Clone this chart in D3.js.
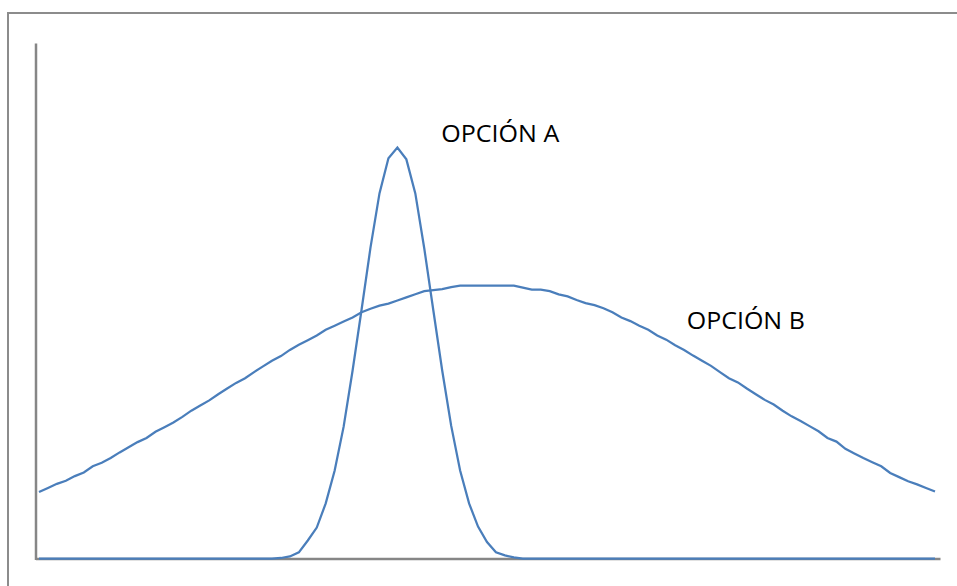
<!DOCTYPE html>
<html lang="es">
<head>
<meta charset="utf-8">
<script src="https://d3js.org/d3.v7.min.js"></script>
<style>
  body { margin: 0; background: #fff; }
  svg { display: block; }
</style>
</head>
<body>
<script>
  var w = 957, h = 586;

  // values, as percent of the axis height
  var opcionA = [
    0,0,0,0,0,0,0,0,0,0,
    0,0,0,0,0,0,0,0,0,0,
    0,0,0,0,0,0,0,0.1,0.4,1.2,
    3.5,6.0,10.7,17.1,25.6,36.5,48.3,60.4,70.9,77.7,
    79.8,77.5,70.9,60.2,48.3,36.5,25.8,17.1,10.7,6.2,
    3.2,1.2,0.6,0.2,0,0,0,0,0,0,
    0,0,0,0,0,0,0,0,0,0,
    0,0,0,0,0,0,0,0,0,0,
    0,0,0,0,0,0,0,0,0,0,
    0,0,0,0,0,0,0,0,0,0,
    0
  ];

  var opcionB = [
    12.9,13.7,14.5,15.1,16.0,16.7,17.9,18.6,19.5,20.6,
    21.6,22.6,23.4,24.6,25.5,26.4,27.5,28.7,29.7,30.7,
    31.9,33.0,34.1,35.0,36.2,37.3,38.4,39.3,40.5,41.5,
    42.4,43.3,44.4,45.2,46.0,46.8,47.8,48.5,49.1,49.5,
    50.1,50.7,51.3,51.9,52.1,52.3,52.7,53.0,53.0,53.0,
    53.0,53.0,53.0,53.0,52.6,52.2,52.2,51.9,51.3,50.9,
    50.2,49.6,49.2,48.6,47.8,46.8,46.1,45.2,44.4,43.3,
    42.5,41.4,40.5,39.4,38.4,37.4,36.2,35.0,34.2,33.0,
    31.9,30.8,29.9,28.7,27.6,26.7,25.7,24.7,23.4,22.7,
    21.3,20.4,19.5,18.7,17.9,16.6,15.8,15.0,14.4,13.7,
    13.0
  ];

  var series = [
    { name: "OPCIÓN A", values: opcionA, label: { i: 44.9, v: 80.9 } },
    { name: "OPCIÓN B", values: opcionB, label: { i: 72.3, v: 44.6 } }
  ];

  var svg = d3.select("body")
          .append("svg")
          .attr("width", w)
          .attr("height", h);

  // outer frame (only top and left edges are visible in the picture)
  svg.append("path")
    .attr("d", "M8,586 V13 H957")
    .attr("fill", "none")
    .attr("stroke", "#8c8c8c")
    .attr("stroke-width", 2);

  var x = d3.scaleLinear().domain([0, opcionB.length - 1]).range([39, 935]);
  var y = d3.scaleLinear().domain([0, 100]).range([558.5, 43.5]);

  // axis lines, no ticks or labels
  var xAxisScale = d3.scaleLinear().domain([0, 1]).range([35.5, 940]);
  var yAxisScale = d3.scaleLinear().domain([0, 1]).range([559.5, 43]);

  svg.append("g")
    .attr("transform", "translate(0," + y(0) + ")")
    .call(d3.axisBottom(xAxisScale).ticks(0).tickSizeOuter(0))
    .call(function(g) { g.select(".domain").attr("stroke", "#868686").attr("stroke-width", 2.5); });

  svg.append("g")
    .attr("transform", "translate(35.5,0)")
    .call(d3.axisLeft(yAxisScale).ticks(0).tickSizeOuter(0))
    .call(function(g) { g.select(".domain").attr("stroke", "#868686").attr("stroke-width", 2.5); });

  var line = d3.line()
    .x(function(d, i) { return x(i); })
    .y(function(d) { return y(d); });

  svg.selectAll("path.serie")
    .data(series)
    .join("path")
    .attr("class", "serie")
    .attr("d", function(d) { return line(d.values); })
    .attr("fill", "none")
    .attr("stroke", "#4a7ebb")
    .attr("stroke-width", 2.25)
    .attr("stroke-linejoin", "miter");

  svg.selectAll("text.etiqueta")
    .data(series)
    .join("text")
    .attr("class", "etiqueta")
    .attr("x", function(d) { return x(d.label.i); })
    .attr("y", function(d) { return y(d.label.v); })
    .attr("font-family", "'Open Sans', sans-serif")
    .attr("font-size", 23)
    .attr("fill", "#000")
    .attr("textLength", 118)
    .attr("lengthAdjust", "spacingAndGlyphs")
    .text(function(d) { return d.name; });
</script>
</body>
</html>
